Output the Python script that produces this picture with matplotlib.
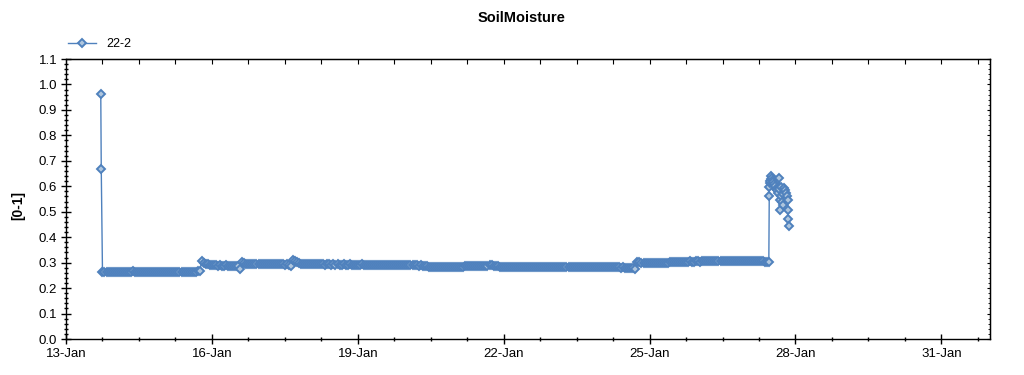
import numpy as np
import pandas as pd
import matplotlib
matplotlib.use("Agg")
import matplotlib.pyplot as plt
import matplotlib.dates as mdates
from matplotlib.ticker import MultipleLocator

plt.rcParams['font.family'] = ['Liberation Sans', 'DejaVu Sans']

# first readings (day of January, value) - the start-up spike
start_day = [13.715, 13.725]
start_val = [0.961, 0.668]

# hourly readings, from 13-Jan 18:00 on
jan13 = [0.265, 0.265, 0.264, 0.265, 0.265, 0.264]
jan14 = [0.265, 0.264, 0.265, 0.265, 0.264, 0.265, 0.265, 0.264, 0.265, 0.266, 0.265, 0.265,
         0.264, 0.265, 0.265, 0.264, 0.265, 0.265, 0.264, 0.265, 0.265, 0.264, 0.265, 0.265]
jan15 = [0.264, 0.265, 0.265, 0.264, 0.265, 0.264, 0.265, 0.265, 0.264, 0.265, 0.264, 0.265,
         0.264, 0.264, 0.263, 0.264, 0.263, 0.266, 0.268, 0.306, 0.300, 0.296, 0.293, 0.291]
jan16 = [0.290, 0.289, 0.289, 0.288, 0.289, 0.288, 0.288, 0.289, 0.288, 0.288, 0.287, 0.288,
         0.288, 0.288, 0.276, 0.302, 0.298, 0.296, 0.295, 0.295, 0.294, 0.295, 0.294, 0.294]
jan17 = [0.294, 0.294, 0.293, 0.294, 0.294, 0.293, 0.294, 0.293, 0.293, 0.294, 0.293, 0.293,
         0.292, 0.293, 0.292, 0.288, 0.310, 0.307, 0.302, 0.298, 0.296, 0.295, 0.294, 0.294]
jan18 = [0.294, 0.293, 0.294, 0.293, 0.293, 0.294, 0.293, 0.293, 0.292, 0.293, 0.293, 0.292,
         0.293, 0.292, 0.293, 0.292, 0.292, 0.293, 0.292, 0.292, 0.293, 0.292, 0.292, 0.292]
jan19 = [0.292, 0.292, 0.293, 0.292, 0.292, 0.291, 0.292, 0.292, 0.291, 0.292, 0.291, 0.292,
         0.291, 0.291, 0.292, 0.291, 0.291, 0.290, 0.291, 0.291, 0.290, 0.291, 0.290, 0.290]
jan20 = [0.290, 0.290, 0.289, 0.290, 0.289, 0.289, 0.288, 0.289, 0.288, 0.288, 0.287, 0.284,
         0.283, 0.283, 0.282, 0.282, 0.281, 0.282, 0.281, 0.281, 0.282, 0.281, 0.281, 0.282]
jan21 = [0.281, 0.282, 0.281, 0.282, 0.283, 0.285, 0.285, 0.286, 0.285, 0.285, 0.286, 0.285,
         0.285, 0.286, 0.285, 0.286, 0.287, 0.289, 0.289, 0.288, 0.286, 0.285, 0.284, 0.283]
jan22 = [0.283, 0.282, 0.283, 0.282, 0.283, 0.284, 0.283, 0.284, 0.283, 0.284, 0.284, 0.283,
         0.284, 0.283, 0.284, 0.284, 0.283, 0.284, 0.283, 0.284, 0.283, 0.284, 0.283, 0.283]
jan23 = [0.284, 0.283, 0.284, 0.283, 0.283, 0.284, 0.283, 0.283, 0.284, 0.283, 0.283, 0.284,
         0.283, 0.283, 0.284, 0.283, 0.283, 0.282, 0.283, 0.283, 0.282, 0.283, 0.283, 0.282]
jan24 = [0.283, 0.282, 0.282, 0.283, 0.282, 0.282, 0.281, 0.282, 0.281, 0.281, 0.280, 0.281,
         0.280, 0.280, 0.279, 0.279, 0.278, 0.275, 0.304, 0.302, 0.300, 0.300, 0.299, 0.300]
jan25 = [0.299, 0.300, 0.299, 0.299, 0.300, 0.299, 0.300, 0.300, 0.299, 0.300, 0.301, 0.302,
         0.303, 0.304, 0.303, 0.304, 0.304, 0.303, 0.304, 0.304, 0.305, 0.304, 0.304, 0.305]
jan26 = [0.305, 0.304, 0.305, 0.305, 0.306, 0.305, 0.305, 0.306, 0.305, 0.306, 0.305, 0.306,
         0.306, 0.305, 0.306, 0.306, 0.305, 0.306, 0.306, 0.305, 0.306, 0.306, 0.305, 0.306]
jan27 = [0.306, 0.305, 0.306, 0.306, 0.305, 0.306, 0.305, 0.306, 0.305, 0.304, 0.302]

# the wet-up burst on 27-Jan (day of January, value)
burst_day = [27.452, 27.459, 27.462, 27.470, 27.480, 27.494, 27.505, 27.515, 27.529, 27.545,
             27.556, 27.575, 27.600, 27.620, 27.640, 27.659, 27.668, 27.680, 27.690, 27.700,
             27.712, 27.725, 27.735, 27.750, 27.762, 27.780, 27.803, 27.820, 27.838, 27.845,
             27.852, 27.859]
burst_val = [0.302, 0.560, 0.599, 0.612, 0.619, 0.630, 0.641, 0.632, 0.625, 0.618,
             0.610, 0.600, 0.590, 0.584, 0.575, 0.634, 0.590, 0.547, 0.507, 0.599,
             0.560, 0.540, 0.527, 0.570, 0.594, 0.585, 0.575, 0.560, 0.547, 0.507,
             0.472, 0.442]

series_name = '22-2'
base = pd.Timestamp('2014-01-01')

hourly = jan13 + jan14 + jan15 + jan16 + jan17 + jan18 + jan19 + jan20 + jan21 + jan22 \
    + jan23 + jan24 + jan25 + jan26 + jan27
t_hourly = pd.date_range('2014-01-13 18:00', periods=len(hourly), freq='h')
t_start = base + pd.to_timedelta(np.array(start_day) - 1, unit='D')
t_burst = base + pd.to_timedelta(np.array(burst_day) - 1, unit='D')

t = t_start.append(t_hourly).append(t_burst)
v = start_val + hourly + burst_val

fig = plt.figure(figsize=(10.24, 3.75), dpi=100)
ax = fig.add_axes([66 / 1024, 36 / 375, 924 / 1024, 280 / 375])

blue = '#4F81BD'
ax.plot(t, v, color=blue, lw=1, marker='D', ms=4, mfc='#AFC6DE', mec=blue, mew=1.4,
        label=series_name)

ax.set_xlim(pd.Timestamp('2014-01-13'), pd.Timestamp('2014-02-01'))
ax.set_ylim(0, 1.1)

ax.set_xticks(pd.date_range('2014-01-13', '2014-02-01', freq='3D'))
ax.set_xticks(pd.date_range('2014-01-13', '2014-02-01', freq='18h'), minor=True)
ax.xaxis.set_major_formatter(mdates.DateFormatter('%d-%b'))
ax.yaxis.set_major_locator(MultipleLocator(0.1))
ax.yaxis.set_minor_locator(MultipleLocator(0.02))
ax.yaxis.set_major_formatter(plt.FuncFormatter(lambda y, p: f'{y:.1f}'))

ax.tick_params(which='major', direction='inout', length=6.5, width=1, labelsize=9.5, pad=3)
ax.tick_params(which='minor', direction='inout', length=3.5, width=1)

# inward ticks on the top and right frame
top = ax.secondary_xaxis('top')
top.set_xticks(pd.date_range('2014-01-13', '2014-02-01', freq='18h'))
top.tick_params(direction='in', length=3.5, labeltop=False)
right = ax.secondary_yaxis('right')
right.yaxis.set_major_locator(MultipleLocator(0.1))
right.yaxis.set_minor_locator(MultipleLocator(0.02))
right.tick_params(which='major', direction='in', length=2.5, labelright=False)
right.tick_params(which='minor', direction='in', length=1.5)

for s in ax.spines.values():
    s.set_linewidth(1)

fig.text(522 / 1024, 1 - 18 / 375, 'SoilMoisture', ha='center', va='center',
         fontsize=10.5, fontweight='bold')
fig.text(18 / 1024, 1 - 205 / 375, '[0-1]', ha='center', va='center', rotation=90,
         fontsize=10, fontweight='bold')

fig.legend(loc='center left', bbox_to_anchor=(63 / 1024, 1 - 44 / 375), frameon=False,
           fontsize=9, handlelength=2.2, handletextpad=0.9, borderaxespad=0)

fig.savefig('out.png', dpi=100)
